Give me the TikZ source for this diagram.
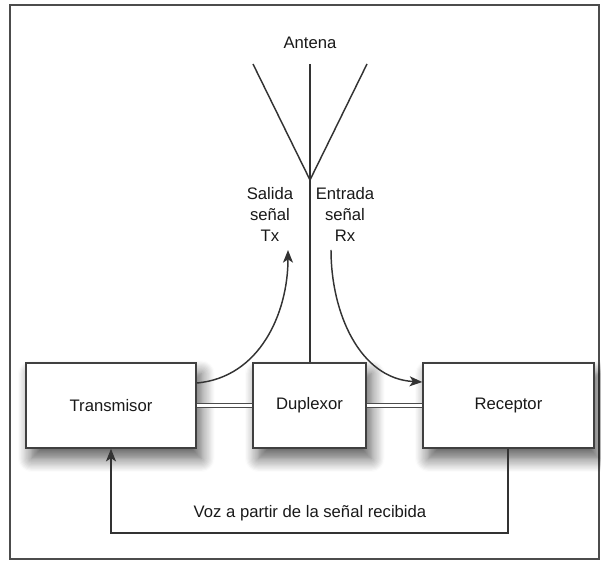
\documentclass[tikz,border=0pt]{standalone}
\usepackage{fontspec}
\setmainfont{Liberation Sans}
\usepackage{tikz}
\usetikzlibrary{arrows,arrows.meta,positioning,calc,shapes,shadows.blur}

\tikzset{
  block/.style={draw=black!75,line width=1.1pt,fill=white,minimum height=63.75pt,
    blur shadow={shadow xshift=4pt,shadow yshift=-8pt,shadow blur radius=10pt,
      shadow blur steps=12,shadow opacity=65}},
  wire/.style={draw=black!80,line width=1.1pt},
  tip/.style={-{Stealth[length=9.5pt,width=7.5pt,inset=2.5pt]}},
  link/.style={draw=black!70,line width=0.9pt,double=white,double distance=2.6pt},
  lbl/.style={font=\fontsize{12.5}{15.75}\selectfont,text=black!90}
}

\begin{document}
\begin{tikzpicture}[x=0.75pt,y=0.75pt]
\useasboundingbox (0,0) rectangle (601,561);
% Frame
\draw[black!70,line width=1.4pt] (10,2) rectangle (599,556);

% Blocks
\node[block,lbl,minimum width=127.5pt] (tx) at (111,155.5) {Transmisor};
\node[block,lbl,minimum width=84.75pt] (dup) at (309.5,155.5) {Duplexor};
\node[block,lbl,minimum width=128.25pt] (rx) at (508.5,155.5) {Receptor};

% Antenna
\coordinate (anttop) at (310,497);
\coordinate (antfoot) at (310,381);
\coordinate (antl) at (253,497);
\coordinate (antr) at (367,497);
\draw[wire] (antl) -- (antfoot) -- (antr);
\draw[wire] (anttop) -- (dup.north -| anttop);
\node[lbl] (antlbl) at (310,518) {Antena};

% Signal labels
\node[lbl,align=center] (txlbl) at (270,347) {Salida\\señal\\Tx};
\node[lbl,align=center] (rxlbl) at (345,347) {Entrada\\señal\\Rx};

% Signal paths
\coordinate (txend) at (288,311);
\coordinate (rxstart) at (331,311);
\draw[wire,tip] ($(tx.east)+(0,22.5)$) to[out=5,in=-90] (txend);
\draw[wire,tip] (rxstart) to[out=-90,in=177] ($(rx.west)+(0,23.5)$);

% Double links
\draw[link] (tx.east) -- (dup.west);
\draw[link] (dup.east) -- (rx.west);

% Feedback
\coordinate (fbr) at (508,28);
\coordinate (fbl) at (111,28);
\draw[wire,tip] (rx.south -| fbr) -- (fbr) -- (fbl) -- (tx.south -| fbl);
\node[lbl] (fblbl) at (310,48) {Voz a partir de la señal recibida};
\end{tikzpicture}
\end{document}
